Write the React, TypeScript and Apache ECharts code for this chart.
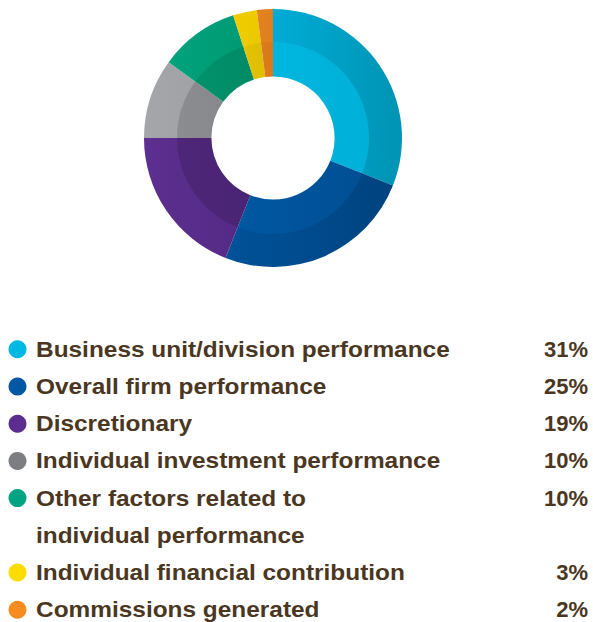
import React, { useEffect, useRef } from "react";
import * as echarts from "echarts";

const categories = [
  "Business unit/division performance",
  "Overall firm performance",
  "Discretionary",
  "Individual investment performance",
  "Other factors related to\nindividual performance",
  "Individual financial contribution",
  "Commissions generated",
];
const values = [31, 25, 19, 10, 10, 3, 2];
const percentLabels = ["31%", "25%", "19%", "10%", "10%", "3%", "2%"];

// palette: legend marker colour, outer band gradient (left,right), inner band gradient (left,right)
const markerColors = ["#00b8e4", "#0057a3", "#5a2d8e", "#7d7e82", "#00a382", "#ffdc00", "#f68b1f"];
const outerColors = [
  ["#00acd6", "#0093b4"],
  ["#00529a", "#00437f"],
  ["#5c2f90", "#552a86"],
  ["#a4a6a9", "#a0a2a5"],
  ["#00a27c", "#009b74"],
  ["#f0cc00", "#ecc800"],
  ["#e3821f", "#df7e1c"],
];
const innerColors = [
  ["#00b6df", "#00b0d8"],
  ["#0058a2", "#004f94"],
  ["#4e2679", "#4a2474"],
  ["#8b8d90", "#86888b"],
  ["#00916b", "#008b66"],
  ["#e3c200", "#dfbe00"],
  ["#dd7c1c", "#d9781a"],
];

const grad = (c: string[]) =>
  new echarts.graphic.LinearGradient(0, 0, 1, 0, [
    { offset: 0, color: c[0] },
    { offset: 1, color: c[1] },
  ]);

export default function App() {
  const ref = useRef<HTMLDivElement>(null);
  useEffect(() => {
    document.body.style.margin = "0";
    const chart = echarts.init(ref.current!, null, { renderer: "svg" });
    const rowStart = 349.3;
    const rowStep = 37.2;
    const graphics: any[] = [];
    let row = 0;
    categories.forEach((name, i) => {
      const y = rowStart + row * rowStep;
      graphics.push({
        type: "circle",
        shape: { cx: 17.5, cy: y, r: 9 },
        style: { fill: markerColors[i] },
      });
      graphics.push({
        type: "text",
        x: 36,
        y: y - rowStep / 2,
        scaleX: 1.11,
        style: {
          text: name,
          font: "bold 22px 'Liberation Sans', Arial, sans-serif",
          fill: "#4b371f",
          lineHeight: rowStep,
          verticalAlign: "top",
          align: "left",
        },
      });
      graphics.push({
        type: "text",
        x: 588,
        y: y,
        style: {
          text: percentLabels[i],
          font: "bold 22px 'Liberation Sans', Arial, sans-serif",
          fill: "#4b371f",
          verticalAlign: "middle",
          align: "right",
        },
      });
      row += name.split("\n").length;
    });

    const mk = (radius: number[], cols: string[][]) => ({
      type: "pie",
      center: [273, 138],
      radius,
      startAngle: 90,
      clockwise: true,
      label: { show: false },
      labelLine: { show: false },
      emphasis: { disabled: true },
      silent: true,
      itemStyle: { borderWidth: 0 },
      data: values.map((v, i) => ({
        name: categories[i],
        value: v,
        itemStyle: { color: grad(cols[i]) },
      })),
    });

    chart.setOption({
      animation: false,
      series: [mk([94.5, 129], outerColors), mk([61.6, 96], innerColors)],
      graphic: graphics,
    });
    return () => chart.dispose();
  }, []);
  return <div ref={ref} style={{ width: 593, height: 622 }} />;
}
